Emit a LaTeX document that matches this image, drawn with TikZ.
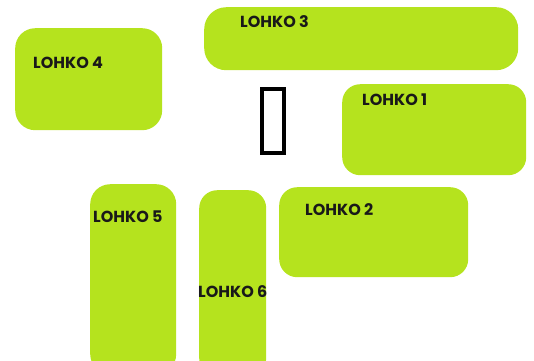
\documentclass[tikz,border=0pt]{standalone}
\usepackage{fontspec}
\setmainfont{Poppins}
\definecolor{lime}{RGB}{181,227,30}
\begin{document}
\begin{tikzpicture}[x=1pt,y=-1pt,
  box/.style={fill=lime,draw=none,anchor=north west,inner sep=0pt},
  lbl/.style={anchor=west,inner sep=0pt,font=\fontsize{16}{18}\selectfont\bfseries,text=black!90}]
\useasboundingbox (0,0) rectangle (534,360);
\node[box,rounded corners=20pt,minimum width=147pt,minimum height=102pt] (b4) at (15,28) {};
\node[box,rounded corners=22pt,minimum width=314pt,minimum height=63pt] (b3) at (204,7) {};
\node[box,rounded corners=18pt,minimum width=184pt,minimum height=91pt] (b1) at (342,84) {};
\node[box,rounded corners=18pt,minimum width=189pt,minimum height=90pt] (b2) at (279,187) {};
\node[box,rounded corners=20pt,minimum width=86pt,minimum height=190pt] (b5) at (90,184) {};
\node[box,rounded corners=18pt,minimum width=67pt,minimum height=186pt] (b6) at (199,190) {};
\node[draw=black,line width=4pt,anchor=north west,minimum width=22pt,minimum height=64pt,inner sep=0pt] (door) at (260,87) {};
\node[lbl] (t4) at (33,63) {LOHKO 4};
\node[lbl] (t3) at (240,22) {LOHKO 3};
\node[lbl] (t1) at (362,100) {LOHKO 1};
\node[lbl] (t2) at (305,210) {LOHKO 2};
\node[lbl] (t5) at (93,217) {LOHKO 5};
\node[lbl] (t6) at (198,292) {LOHKO 6};
\end{tikzpicture}
\end{document}
